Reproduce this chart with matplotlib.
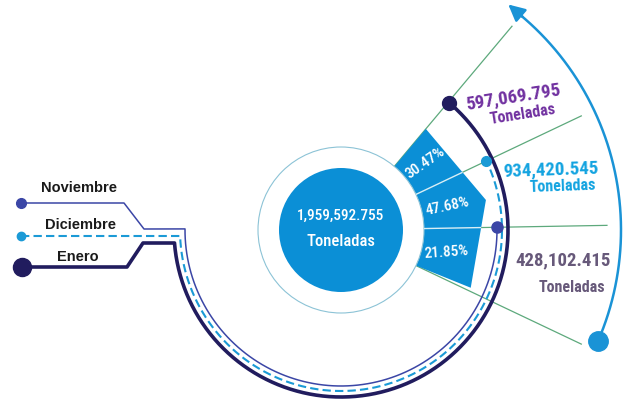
import numpy as np
import matplotlib.pyplot as plt
from matplotlib.patches import Circle, Polygon

months = ['Noviembre', 'Diciembre', 'Enero']
toneladas = [428102.415, 934420.545, 597069.795]
porcentajes = ['21.85%', '47.68%', '30.47%']
total = '1,959,592.755'

narrow = ['Roboto Condensed', 'DejaVu Sans']
bold = ['Liberation Sans', 'DejaVu Sans']

fig = plt.figure(figsize=(6.29, 4.07), dpi=100)
ax = fig.add_axes([0, 0, 1, 1])
ax.set_xlim(0, 629)
ax.set_ylim(407, 0)
ax.set_aspect('equal')
ax.axis('off')

cx, cy = 341, 230


def pt(r, a):
    t = np.radians(a)
    return cx + r * np.cos(t), cy - r * np.sin(t)


def arc(r, a0, a1, n=200):
    t = np.radians(np.linspace(a0, a1, n))
    return cx + r * np.cos(t), cy - r * np.sin(t)


# green radial lines
bounds = [50, 25.4, 1, -25.4]
for a in bounds:
    x0, y0 = pt(83, a)
    x1, y1 = pt(266, a)
    ax.plot([x0, x1], [y0, y1], color='#5DA97C', lw=0.9, zorder=1)

# blue sector polygon
inner = np.array(arc(83, -25.4, 50, 60)).T
outer = np.array([pt(132, 50), pt(148, 11.7), pt(142, -24)])
poly = Polygon(np.vstack([inner, outer]), closed=True, fc='#0B8FD6', ec='none', zorder=2)
ax.add_patch(poly)
for a in bounds[1:3]:
    x0, y0 = pt(83, a)
    x1, y1 = pt(200, a)
    l, = ax.plot([x0, x1], [y0, y1], color='#D8EEF5', lw=1.0, zorder=3)
    l.set_clip_path(poly)

# centre circles
ax.add_patch(Circle((cx, cy), 83, fc='white', ec='#8CC3D6', lw=0.8, zorder=2))
ax.add_patch(Circle((cx, cy), 62, fc='#0B8FD6', ec='none', zorder=3))
ax.text(cx, 216, total, color='white', fontsize=11, weight='medium', family=narrow, ha='center', va='center', zorder=4)
ax.text(cx, 241, 'Toneladas', color='white', fontsize=12, weight='medium', family=narrow, ha='center', va='center', zorder=4)

# percentages (top to bottom: Enero, Diciembre, Noviembre)
pct_pos = [(446, 252, 4), (447, 206, 12), (425, 163, 35)]
for p, (x, y, rot) in zip(porcentajes, pct_pos):
    ax.text(x, y, p, color='white', fontsize=11, weight='medium', family=narrow, ha='center', va='center',
            rotation=rot, rotation_mode='anchor', zorder=4)

# month arcs with legend leads
# Noviembre
r = 156
ax_, ay_ = arc(r, 179.6, 361)
xs = [21, 124, 144] + list(ax_)
ys = [203, 203, 229] + list(ay_)
ax.plot(xs, ys, color='#3B46A6', lw=1.1, zorder=5, solid_capstyle='round')
ax.plot(21, 203, 'o', color='#3B46A6', ms=7, zorder=6)
ax.plot(*pt(r, 1), 'o', color='#3B46A6', ms=8, zorder=6)

# Diciembre
r = 161
d = np.degrees(np.arcsin(6 / r))
ax_, ay_ = arc(r, 180 + d, 385.5)
xs = [21] + list(ax_)
ys = [236] + list(ay_)
ax.plot(xs, ys, color='#1B9AD6', lw=1.5, ls=(0, (4, 2)), zorder=5)
ax.plot(21, 236, 'o', color='#1B9AD6', ms=6, zorder=6)
ax.plot(*pt(r, 25.4), 'o', color='#1B9AD6', ms=7, zorder=6)

# Enero
r = 167
d = np.degrees(np.arcsin(13 / r))
ax_, ay_ = arc(r, 180 + d, 409.7)
xs = [22, 127, 143] + list(ax_)
ys = [267, 267, 243] + list(ay_)
ax.plot(xs, ys, color='#211C5E', lw=2.6, zorder=5, solid_capstyle='round')
ax.plot(22, 267, 'o', color='#211C5E', ms=13, zorder=6)
ax.plot(*pt(r, 49.7), 'o', color='#211C5E', ms=10, zorder=6)

# legend texts
ax.text(79, 188, months[0], fontsize=10.5, weight='bold', family=bold, ha='center', va='center', color='#1A1A1A')
ax.text(80, 225, months[1], fontsize=10.5, weight='bold', family=bold, ha='center', va='center', color='#1A1A1A')
ax.text(78, 257, months[2], fontsize=10.5, weight='bold', family=bold, ha='center', va='center', color='#1A1A1A')

# outer arrow arc
ax_, ay_ = arc(280, -23.4, 50)
ax.plot(ax_, ay_, color='#1A93D6', lw=1.8, zorder=4)
ax.plot(*pt(280, -23.4), 'o', color='#1A93D6', ms=14, zorder=6)
ax.annotate('', xy=pt(281, 54), xytext=pt(280, 49),
            arrowprops=dict(arrowstyle='-|>,head_length=1.0,head_width=0.5', color='#1A93D6', lw=1.8))

# value labels
fmt = lambda v: '{:,.3f}'.format(v)
ax.text(513, 97, fmt(toneladas[2]), color='#7030A0', fontsize=13.5, weight='bold', family=narrow,
        ha='center', va='center', rotation=9, rotation_mode='anchor')
ax.text(523, 114, 'Toneladas', color='#7030A0', fontsize=11.5, weight='bold', family=narrow,
        ha='center', va='center', rotation=9, rotation_mode='anchor')
ax.text(551, 170, fmt(toneladas[1]), color='#12A3E0', fontsize=13.5, weight='bold', family=narrow,
        ha='center', va='center', rotation=2, rotation_mode='anchor')
ax.text(563, 186, 'Toneladas', color='#12A3E0', fontsize=11.5, weight='bold', family=narrow,
        ha='center', va='center', rotation=2, rotation_mode='anchor')
ax.text(563, 260, fmt(toneladas[0]), color='#67597A', fontsize=13.5, weight='bold', family=narrow, ha='center', va='center')
ax.text(572, 288, 'Toneladas', color='#67597A', fontsize=11.5, weight='bold', family=narrow, ha='center', va='center')

fig.savefig('out.png', dpi=100)
